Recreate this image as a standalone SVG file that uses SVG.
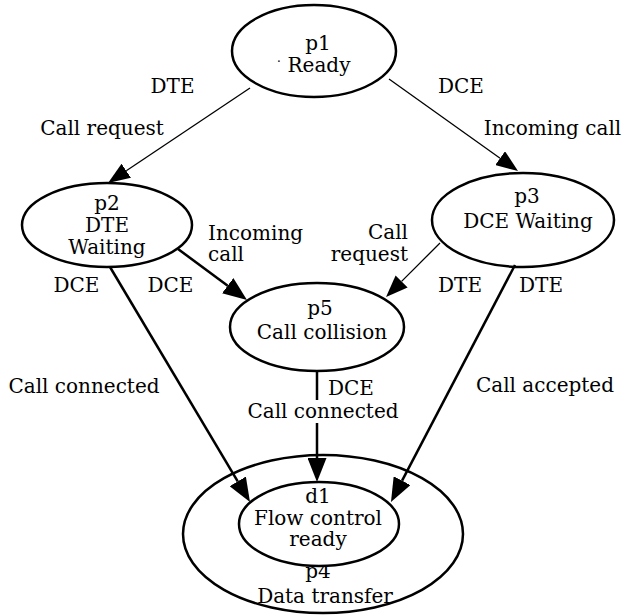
<svg xmlns="http://www.w3.org/2000/svg" width="624" height="615" viewBox="0 0 624 615">
  <style>
    .node { fill: #ffffff; stroke: #000000; stroke-width: 2.5; }
    .lbl { font-family: "DejaVu Serif", "Liberation Serif", serif; font-size: 20px; fill: #000000; }
    .mid { text-anchor: middle; }
    .end { text-anchor: end; }
    .thin { fill: none; stroke: #000000; stroke-width: 1.3; marker-end: url(#headThin); }
    .thick { fill: none; stroke: #000000; stroke-width: 2.5; marker-end: url(#headThick); }
  </style>
  <defs>
    <marker id="headThin" viewBox="0 0 22 17" refX="0" refY="8.5" markerWidth="22" markerHeight="17" markerUnits="userSpaceOnUse" orient="auto">
      <path d="M0,0 L22,8.5 L0,17 Z" fill="#000000"/>
    </marker>
    <marker id="headThick" viewBox="0 0 24 19" refX="0" refY="9.5" markerWidth="24" markerHeight="19" markerUnits="userSpaceOnUse" orient="auto">
      <path d="M0,0 L24,9.5 L0,19 Z" fill="#000000"/>
    </marker>
  </defs>

  <rect width="624" height="615" fill="#ffffff"/>

  <!-- data transfer state, enclosing flow control -->
  <g id="p4">
    <ellipse class="node" cx="323" cy="534" rx="140" ry="79"/>
    <text class="lbl mid" x="318" y="578">p4</text>
    <text class="lbl mid" x="325" y="603">Data transfer</text>
  </g>

  <g id="d1">
    <ellipse class="node" cx="319" cy="524" rx="80" ry="42"/>
    <text class="lbl mid" x="318" y="503">d1</text>
    <text class="lbl mid" x="318" y="525">Flow control</text>
    <text class="lbl mid" x="318" y="546">ready</text>
  </g>

  <g id="p1">
    <ellipse class="node" cx="314" cy="51" rx="82" ry="46"/>
    <text class="lbl mid" x="318" y="50">p1</text>
    <text class="lbl" x="277" y="66" style="font-size:12px">·</text>
    <text class="lbl mid" x="319" y="72">Ready</text>
  </g>

  <g id="p2">
    <ellipse class="node" cx="107" cy="225" rx="85" ry="42"/>
    <text class="lbl mid" x="107" y="210">p2</text>
    <text class="lbl mid" x="107" y="232">DTE</text>
    <text class="lbl mid" x="107" y="254">Waiting</text>
  </g>

  <g id="p3">
    <ellipse class="node" cx="523" cy="220" rx="91" ry="47"/>
    <text class="lbl mid" x="527" y="203">p3</text>
    <text class="lbl mid" x="528" y="228">DCE Waiting</text>
  </g>

  <g id="p5">
    <ellipse class="node" cx="317" cy="327" rx="87" ry="44"/>
    <text class="lbl mid" x="320" y="315">p5</text>
    <text class="lbl mid" x="322" y="339">Call collision</text>
  </g>

  <!-- transitions -->
  <g id="connectors">
    <path class="thin" d="M250,88 L126.3,170.8"/>
    <path class="thin" d="M389,79 L500.1,158.2"/>
    <path class="thick" d="M178,249 L227.7,285.7"/>
    <path class="thin" d="M440,243 L401.6,281.4"/>
    <path class="thick" d="M110,267 L237.7,481.4"/>
    <path class="thick" d="M317,371 V400 M317,423 V458"/>
    <path class="thick" d="M515,265 L402.1,480.7"/>
  </g>

  <!-- transition labels -->
  <g id="labels">
    <text class="lbl mid" x="172.5" y="93">DTE</text>
    <text class="lbl mid" x="102" y="135">Call request</text>
    <text class="lbl mid" x="461" y="93">DCE</text>
    <text class="lbl mid" x="552.5" y="135">Incoming call</text>

    <text class="lbl" x="208" y="240">Incoming</text>
    <text class="lbl" x="208" y="261">call</text>
    <text class="lbl mid" x="76.5" y="292">DCE</text>
    <text class="lbl mid" x="170.5" y="292">DCE</text>

    <text class="lbl end" x="408" y="239">Call</text>
    <text class="lbl end" x="408" y="261">request</text>
    <text class="lbl mid" x="460" y="292">DTE</text>
    <text class="lbl mid" x="541" y="292">DTE</text>

    <text class="lbl mid" x="84" y="393">Call connected</text>
    <text class="lbl mid" x="545" y="392">Call accepted</text>
    <text class="lbl" x="328" y="395">DCE</text>
    <text class="lbl mid" x="323" y="418">Call connected</text>
  </g>
</svg>
